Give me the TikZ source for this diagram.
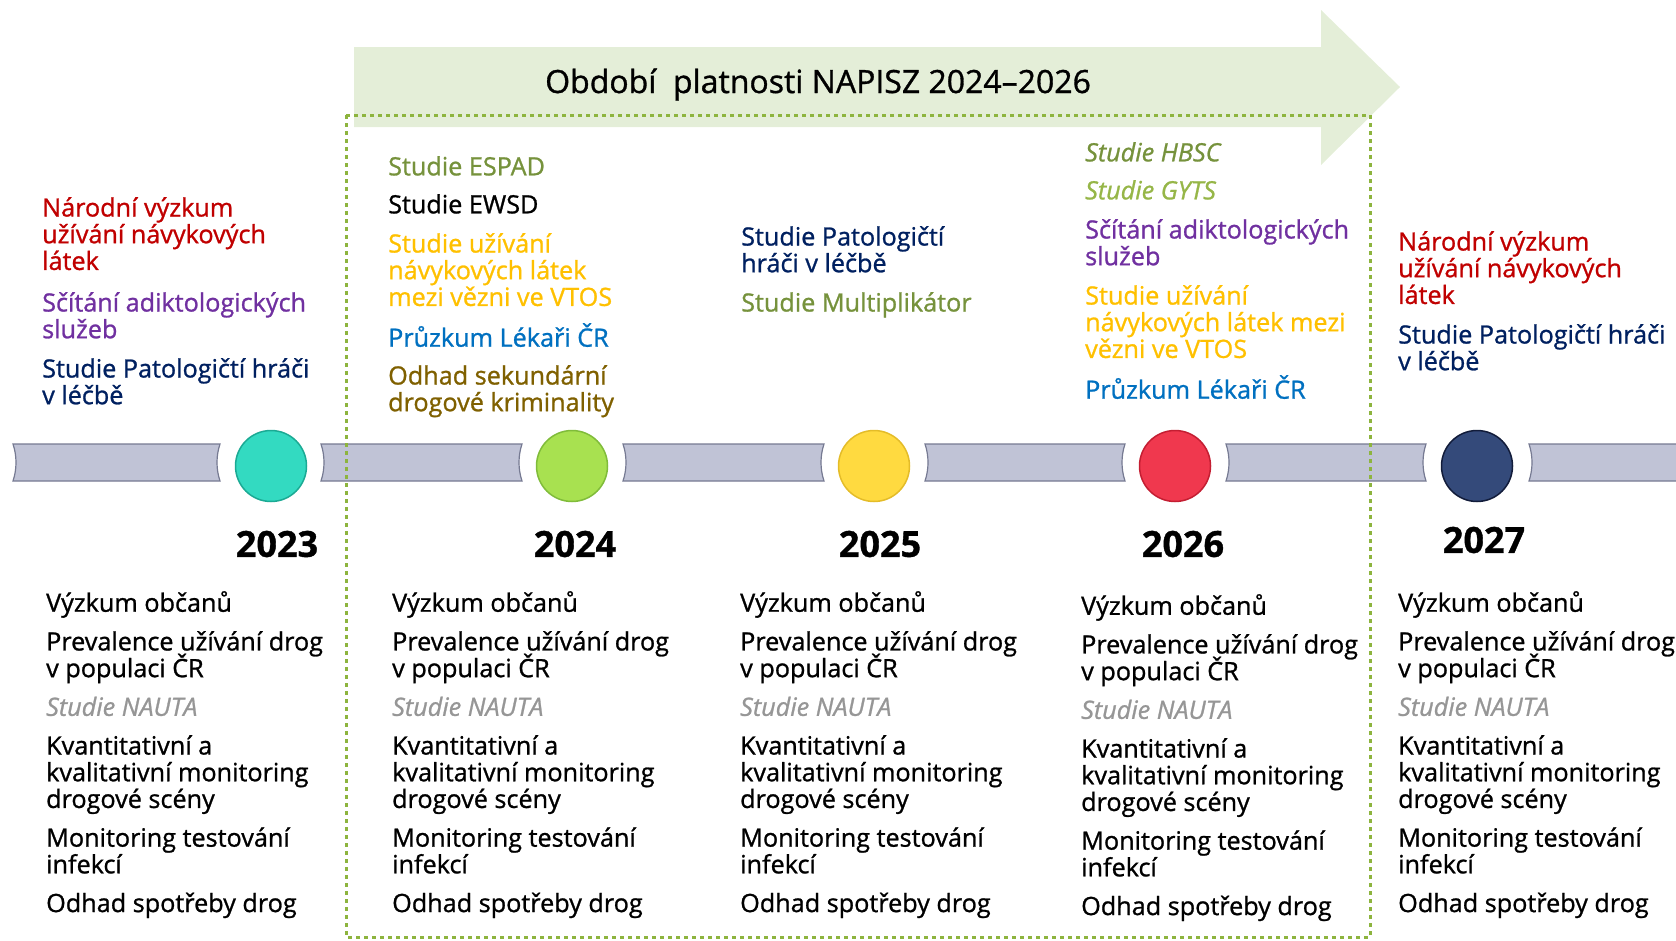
\documentclass[tikz,border=0pt]{standalone}
\usepackage{fontspec}
\setmainfont{Open Sans}[FakeBold=1.0]
\usepackage{tikz}
\usetikzlibrary{calc}

\definecolor{arrowfill}{RGB}{228,238,216}
\definecolor{frame}{RGB}{141,180,62}
\definecolor{barfill}{RGB}{192,195,214}
\definecolor{barline}{RGB}{118,122,146}
\definecolor{c2023}{RGB}{51,218,193}\definecolor{d2023}{RGB}{27,170,148}
\definecolor{c2024}{RGB}{168,225,80}\definecolor{d2024}{RGB}{128,188,58}
\definecolor{c2025}{RGB}{255,218,64}\definecolor{d2025}{RGB}{228,188,40}
\definecolor{c2026}{RGB}{240,56,78}\definecolor{d2026}{RGB}{196,30,50}
\definecolor{c2027}{RGB}{52,74,122}\definecolor{d2027}{RGB}{18,28,58}
\definecolor{natred}{RGB}{192,0,0}
\definecolor{addpurple}{RGB}{112,48,160}
\definecolor{gamnavy}{RGB}{0,32,96}
\definecolor{espgreen}{RGB}{118,146,60}
\definecolor{gytsgreen}{RGB}{150,182,72}
\definecolor{vtosgold}{RGB}{255,192,0}
\definecolor{docblue}{RGB}{0,112,192}
\definecolor{crimebrown}{RGB}{127,96,0}
\definecolor{nautagray}{RGB}{150,150,150}

\newcommand\bodyfont{\fontsize{25.2}{26.7}\selectfont\lineskiplimit=-60pt\relax}
\newcommand\yearfont{\fontsize{36}{40}\selectfont\bfseries}
\newcommand\titlefont{\fontsize{32}{36}\selectfont}
\newcommand\itm[1]{\strut#1\strut}
\newcommand\studylist{\itm{Výzkum občanů\\[12pt] Prevalence užívání drog\\ v populaci ČR\\[12pt] {\color{nautagray}\itshape Studie NAUTA}\\[12pt] Kvantitativní a\\ kvalitativní monitoring\\ drogové scény\\[12pt] Monitoring testování\\ infekcí\\[12pt] Odhad spotřeby drog}}

\begin{document}
\begin{tikzpicture}[x=1pt,y=-1pt,
  lbl/.style={anchor=north west,inner sep=0pt,align=left,font=\bodyfont},
  bar/.style={fill=barfill,draw=barline,line width=1.2pt},
  dot/.style={circle,minimum size=71pt,inner sep=0pt,line width=1.5pt},
  yr/.style={inner sep=0pt,font=\yearfont}]
\useasboundingbox (0,0) rectangle (1676,940);
\fill[arrowfill] (354,47) -- (1321,47) -- (1321,10) -- (1400,87) -- (1321,165) -- (1321,127) -- (354,127) -- cycle;
\node[inner sep=0pt,font=\titlefont,anchor=base] (title) at (818,93) {Období\ \ platnosti NAPISZ 2024–2026};
\foreach \a/\b in {13/220,321/522,623/824,925/1125,1226/1426,1529/1700}
  \draw[bar] (\a,444) -- (\b,444) .. controls (\b-4,456) and (\b-4,469) .. (\b,481) -- (\a,481) .. controls (\a+4,469) and (\a+4,456) .. (\a,444) -- cycle;
\draw[frame,line width=3pt,dash pattern=on 4pt off 4pt] (346,115) rectangle (1370,937);
\foreach \yr/\cx/\lx/\ly in {2023/271/277/544,2024/572/575/544,2025/874/880/544,2026/1175/1183/544,2027/1477/1484/540}{
  \node[dot,fill=c\yr,draw=d\yr] (dot-\yr) at (\cx,466) {};
  \node[yr] (year-\yr) at (\lx,\ly) {\yr};
}
\foreach \x/\y [count=\k] in {46/591,392/591,740/591,1081/594,1398/591}
  \node[lbl] (list-\k) at (\x,\y) {\studylist};
\node[lbl,text=natred] (narodni-23) at (42,197) {\itm{Národní výzkum\\ užívání návykových\\ látek}};
\node[lbl,text=addpurple] (scitani-23) at (42,292) {\itm{Sčítání adiktologických\\ služeb}};
\node[lbl,text=gamnavy] (hraci-23) at (42,358) {\itm{Studie Patologičtí hráči\\ v léčbě}};
\node[lbl,text=espgreen] (espad-24) at (388,156) {\itm{Studie ESPAD}};
\node[lbl,text=black] (ewsd-24) at (388,194) {\itm{Studie EWSD}};
\node[lbl,text=vtosgold] (vtos-24) at (388,233) {\itm{Studie užívání\\ návykových látek\\ mezi vězni ve VTOS}};
\node[lbl,text=docblue] (lekari-24) at (388,323) {\itm{Průzkum Lékaři ČR}};
\node[lbl,text=crimebrown] (odhad-24) at (388,365) {\itm{Odhad sekundární\\ drogové kriminality}};
\node[lbl,text=gamnavy] (hraci-25) at (741,226) {\itm{Studie Patologičtí\\ hráči v léčbě}};
\node[lbl,text=espgreen] (multi-25) at (741,292) {\itm{Studie Multiplikátor}};
\node[lbl,text=espgreen,font=\bodyfont\itshape] (hbsc-26) at (1085,142) {\itm{Studie HBSC}};
\node[lbl,text=gytsgreen,font=\bodyfont\itshape] (gyts-26) at (1085,180) {\itm{Studie GYTS}};
\node[lbl,text=addpurple] (scitani-26) at (1085,219) {\itm{Sčítání adiktologických\\ služeb}};
\node[lbl,text=vtosgold] (vtos-26) at (1085,285) {\itm{Studie užívání\\ návykových látek mezi\\ vězni ve VTOS}};
\node[lbl,text=docblue] (lekari-26) at (1085,375) {\itm{Průzkum Lékaři ČR}};
\node[lbl,text=natred] (narodni-27) at (1398,231) {\itm{Národní výzkum\\ užívání návykových\\ látek}};
\node[lbl,text=gamnavy] (hraci-27) at (1398,324) {\itm{Studie Patologičtí hráči\\ v léčbě}};
\end{tikzpicture}
\end{document}
